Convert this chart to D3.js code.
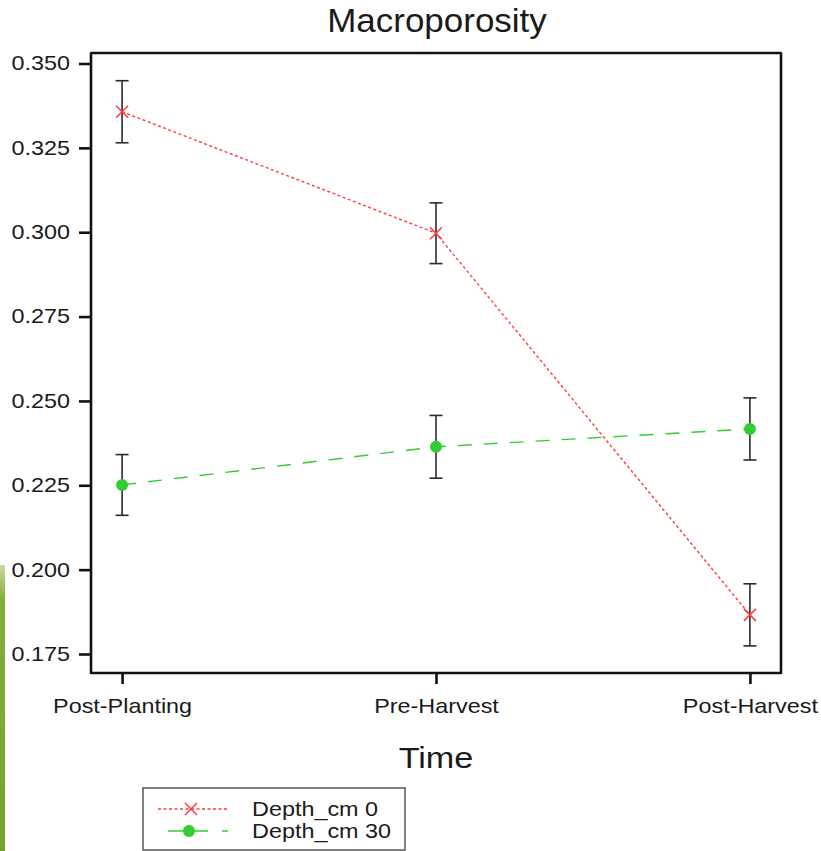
<!DOCTYPE html>
<html>
<head>
<meta charset="utf-8">
<script src="https://cdn.jsdelivr.net/npm/d3@7"></script>
<style>
  html, body { margin: 0; padding: 0; background: #ffffff; }
  #chart { width: 821px; height: 851px; }
  text { font-family: "Liberation Sans", Arial, sans-serif; fill: #1a1a1a; }
</style>
</head>
<body>
<div id="chart"></div>
<script>
// Data
const timePoints = ['Post-Planting', 'Pre-Harvest', 'Post-Harvest'];
const depth0Means = [0.3357, 0.2997, 0.1866];
const depth0Errors = [0.0092, 0.0090, 0.0092];
const depth30Means = [0.2251, 0.2364, 0.2417];
const depth30Errors = [0.0090, 0.0093, 0.0092];
const yTickValues = [0.175, 0.200, 0.225, 0.250, 0.275, 0.300, 0.325, 0.350];
const seriesLabels = ['Depth_cm 0', 'Depth_cm 30'];
const chartTitle = 'Macroporosity';
const xTitle = 'Time';

document.addEventListener('DOMContentLoaded', function() {
    const width = 821, height = 851;
    const plot = { left: 91, right: 781, top: 53, bottom: 673 };
    const stretch = 1.17; // text in the original is a bit wider than normal

    const svg = d3.select('#chart').append('svg')
        .attr('width', width)
        .attr('height', height);

    // Green slide decoration peeking in at the left edge
    const grad = svg.append('defs').append('linearGradient')
        .attr('id', 'slideGreen').attr('x1', 0).attr('y1', 0).attr('x2', 0).attr('y2', 1);
    grad.append('stop').attr('offset', '0%').attr('stop-color', '#c9dba0');
    grad.append('stop').attr('offset', '12%').attr('stop-color', '#86ad38');
    grad.append('stop').attr('offset', '100%').attr('stop-color', '#79a12a');
    svg.append('rect')
        .attr('x', 0).attr('y', 565).attr('width', 5).attr('height', height - 565)
        .attr('fill', 'url(#slideGreen)');

    // Scales
    const x = d3.scalePoint()
        .domain(timePoints)
        .range([plot.left, plot.right])
        .padding(0.099);

    const y = d3.scaleLinear()
        .domain([0.175, 0.350])
        .range([654, 63.5]);

    // Plot frame
    svg.append('rect')
        .attr('x', plot.left).attr('y', plot.top)
        .attr('width', plot.right - plot.left).attr('height', plot.bottom - plot.top)
        .attr('fill', 'none')
        .attr('stroke', '#111')
        .attr('stroke-width', 2.6)
        .attr('stroke-linejoin', 'round');

    // Y axis
    const yAxis = svg.append('g')
        .attr('transform', `translate(${plot.left},0)`)
        .call(d3.axisLeft(y).tickValues(yTickValues).tickFormat(d3.format('.3f')).tickSize(12).tickPadding(9));
    yAxis.select('.domain').remove();
    yAxis.selectAll('.tick line').attr('stroke', '#111').attr('stroke-width', 2.6);
    yAxis.selectAll('.tick text')
        .attr('x', -21 / stretch)
        .attr('transform', `scale(${stretch},1)`)
        .style('font-size', '20px')
        .attr('fill', '#1a1a1a');

    // X axis
    const xAxis = svg.append('g')
        .attr('transform', `translate(0,${plot.bottom})`)
        .call(d3.axisBottom(x).tickSize(11).tickPadding(8));
    xAxis.select('.domain').remove();
    xAxis.selectAll('.tick line').attr('stroke', '#111').attr('stroke-width', 2.6);
    xAxis.selectAll('.tick text')
        .attr('y', 40)
        .attr('dy', 0)
        .attr('transform', `scale(${stretch},1)`)
        .style('font-size', '20px')
        .attr('fill', '#1a1a1a');

    // Series definitions
    const series = [
        { label: seriesLabels[0], means: depth0Means, errors: depth0Errors,
          color: '#ff3b3b', dash: '3,2.5', marker: 'x' },
        { label: seriesLabels[1], means: depth30Means, errors: depth30Errors,
          color: '#33cc33', dash: '14,12', marker: 'circle' }
    ];

    const line = d3.line()
        .x(d => x(d.time))
        .y(d => y(d.value));

    series.forEach(s => {
        const pts = timePoints.map((t, i) => ({ time: t, value: s.means[i], err: s.errors[i] }));

        // Error bars
        const bars = svg.append('g');
        pts.forEach(p => {
            const cx = x(p.time);
            bars.append('line')
                .attr('x1', cx).attr('x2', cx)
                .attr('y1', y(p.value + p.err)).attr('y2', y(p.value - p.err))
                .attr('stroke', '#2a2a2a').attr('stroke-width', 1.6);
            [p.value + p.err, p.value - p.err].forEach(v => {
                bars.append('line')
                    .attr('x1', cx - 6.5).attr('x2', cx + 6.5)
                    .attr('y1', y(v)).attr('y2', y(v))
                    .attr('stroke', '#2a2a2a').attr('stroke-width', 1.6);
            });
        });

        // Connecting line
        svg.append('path')
            .datum(pts)
            .attr('d', line)
            .attr('fill', 'none')
            .attr('stroke', s.color)
            .attr('stroke-width', 1.4)
            .attr('stroke-dasharray', s.dash);

        // Markers
        pts.forEach(p => drawMarker(svg, s, x(p.time), y(p.value)));
    });

    function drawMarker(g, s, cx, cy) {
        if (s.marker === 'x') {
            const r = 6;
            g.append('path')
                .attr('d', `M${cx - r},${cy - r}L${cx + r},${cy + r}M${cx - r},${cy + r}L${cx + r},${cy - r}`)
                .attr('stroke', s.color)
                .attr('stroke-width', 1.5)
                .attr('fill', 'none');
        } else {
            g.append('circle')
                .attr('cx', cx).attr('cy', cy).attr('r', 6)
                .attr('fill', s.color);
        }
    }

    // Title
    svg.append('text')
        .attr('transform', `translate(437,32) scale(1.06,1)`)
        .attr('text-anchor', 'middle')
        .style('font-size', '33px')
        .text(chartTitle);

    // X axis title
    svg.append('text')
        .attr('transform', `translate(436,768) scale(1.14,1)`)
        .attr('text-anchor', 'middle')
        .style('font-size', '30px')
        .text(xTitle);

    // Legend
    const legend = svg.append('g');
    legend.append('rect')
        .attr('x', 143).attr('y', 788)
        .attr('width', 262).attr('height', 62)
        .attr('fill', '#fff')
        .attr('stroke', '#555')
        .attr('stroke-width', 1.5);

    const rows = [809, 831];
    series.forEach((s, i) => {
        const ly = rows[i];
        if (s.marker === 'x') {
            legend.append('line')
                .attr('x1', 158).attr('x2', 227).attr('y1', ly).attr('y2', ly)
                .attr('stroke', s.color).attr('stroke-width', 1.4)
                .attr('stroke-dasharray', s.dash);
        } else {
            legend.append('line')
                .attr('x1', 168).attr('x2', 228).attr('y1', ly).attr('y2', ly)
                .attr('stroke', s.color).attr('stroke-width', 1.4)
                .attr('stroke-dasharray', '40,14');
        }
        drawMarker(legend, s, i === 0 ? 191 : 189, ly);
        legend.append('text')
            .attr('transform', `translate(252,${ly + 7}) scale(${stretch},1)`)
            .style('font-size', '20px')
            .text(s.label);
    });
});
</script>
</body>
</html>
